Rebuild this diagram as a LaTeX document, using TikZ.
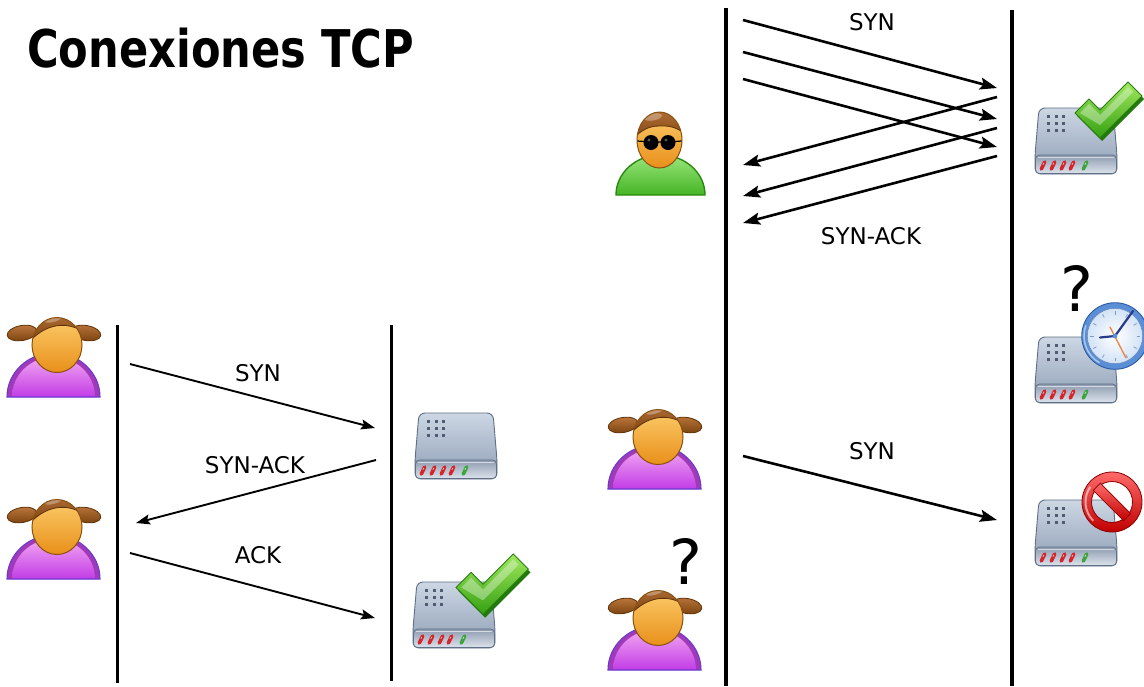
\documentclass[tikz,border=0pt]{standalone}
\usepackage{fontspec}
\setmainfont{DejaVu Sans}
\usetikzlibrary{arrows.meta}

% palette
\definecolor{srvA}{HTML}{CDD7E4}
\definecolor{srvB}{HTML}{8E9EB5}
\definecolor{srvEdge}{HTML}{5F6F86}
\definecolor{panelA}{HTML}{8D9BB0}
\definecolor{panelB}{HTML}{DCE3EC}
\definecolor{dotC}{HTML}{4E5D72}
\definecolor{ledR}{HTML}{D8232A}
\definecolor{ledG}{HTML}{3AA53A}
\definecolor{chkA}{HTML}{A2E85E}
\definecolor{chkB}{HTML}{34A012}
\definecolor{chkEdge}{HTML}{2A7D12}
\definecolor{chkDark}{HTML}{237A0C}
\definecolor{skinA}{HTML}{FCCB6A}
\definecolor{skinB}{HTML}{E8901A}
\definecolor{skinEdge}{HTML}{8A5010}
\definecolor{hairA}{HTML}{B8733A}
\definecolor{hairB}{HTML}{7A420E}
\definecolor{hairEdge}{HTML}{5E3208}
\definecolor{dressA}{HTML}{F2A6F2}
\definecolor{dressB}{HTML}{C23CE6}
\definecolor{dressOut}{HTML}{A03AB8}
\definecolor{dressEdge}{HTML}{6A3AD0}
\definecolor{shirtA}{HTML}{9AE67C}
\definecolor{shirtB}{HTML}{44B424}
\definecolor{shirtEdge}{HTML}{2A8A10}
\definecolor{clkRing}{HTML}{5A8FD8}
\definecolor{clkEdge}{HTML}{2A5AA0}
\definecolor{clkFace}{HTML}{D3E3F6}
\definecolor{clkHand}{HTML}{2A3A8A}
\definecolor{clkSec}{HTML}{F08040}
\definecolor{stopA}{HTML}{FF6A6A}
\definecolor{stopB}{HTML}{C00000}
\definecolor{stopEdge}{HTML}{8A0000}

\newfontfamily\titlefont{DejaVu Sans}

\tikzset{
  % network box with status LEDs
  server/.pic={
    \path[draw=srvEdge, line width=0.9pt, top color=srvA, bottom color=srvB, rounded corners=6pt]
      (4,0) -- (78,0) -- (82,47) -- (82,66) -- (0,66) -- (0,47) -- cycle;
    \path[draw=srvEdge, line width=0.7pt, top color=panelA, bottom color=panelB, rounded corners=4pt]
      (0.5,47) -- (81.5,47) -- (81.5,65.5) -- (0.5,65.5) -- cycle;
    \draw[white, opacity=0.6, line width=0.8pt] (3,49) -- (79,49);
    \foreach \dx in {13,21,28} \foreach \dy in {8,15,22}
      \fill[dotC] (\dx-1.5,\dy-1.5) rectangle (\dx+1.5,\dy+1.5);
    \foreach \lx in {8,18,28,37}{
      \draw[ledR, line width=3.6pt, line cap=round] (\lx-1.7,61) -- (\lx+1.7,54);
      \draw[white, opacity=0.7, line width=0.8pt, line cap=round] (\lx,56.5) -- (\lx+0.9,55);
    }
    \draw[ledG, line width=3.6pt, line cap=round] (48.3,61) -- (51.7,54);
    \draw[white, opacity=0.7, line width=0.8pt, line cap=round] (50,56.5) -- (50.9,55);
  },
  % green tick
  tick/.pic={
    \fill[chkDark] (2,34) -- (16,20) -- (27,31) -- (55,3) -- (69,17) -- (27,59) -- cycle;
    \path[draw=chkEdge, line width=0.8pt, top color=chkA, bottom color=chkB]
      (0,31) -- (14,17) -- (25,28) -- (53,0) -- (67,14) -- (25,56) -- cycle;
    \fill[white, opacity=0.35] (5,31) -- (14,22) -- (25,33) -- (53,5) -- (58,10) -- (25,43) -- cycle;
  },
  % wall clock
  clock/.pic={
    \fill[clkFace] (0,0) circle (28);
    \shade[inner color=white, outer color=clkFace] (0,0) circle (27);
    \draw[clkRing, line width=5.5pt] (0,0) circle (30.5);
    \draw[clkEdge, line width=0.9pt] (0,0) circle (33.3);
    \draw[clkEdge!70, line width=0.6pt] (0,0) circle (27.7);
    \draw[white, opacity=0.5, line width=1.5pt] (120:31) arc[start angle=120, end angle=200, radius=31];
    \foreach \a in {0,30,...,330}
      \draw[clkEdge!60, line width=0.8pt] (\a:21.5) -- (\a:25);
    \draw[clkHand, line width=2.2pt, line cap=round] (0,0) -- (18,-25);
    \draw[clkHand, line width=2.2pt, line cap=round] (0,0) -- (-15,1.5);
    \draw[clkSec, line width=1.3pt, line cap=round] (-5,-9) -- (11,22);
    \fill[clkRing] (0,0) circle (2.4);
  },
  % prohibition sign
  nogo/.pic={
    \path[even odd rule, draw=stopEdge, line width=0.8pt, top color=stopA, bottom color=stopB]
      (0,0) circle (30) (0,0) circle (20.5);
    \begin{scope}[rotate=-45]
      \path[draw=stopEdge, line width=0.8pt, top color=stopA, bottom color=stopB]
        (-21.5,-5) rectangle (21.5,5);
    \end{scope}
    \draw[white, opacity=0.55, line width=2pt] (135:26.5) arc[start angle=135, end angle=215, radius=26.5];
  },
  % girl with pigtails
  girl/.pic={
    \fill[dressOut] (0,87) arc[start angle=180, end angle=360, x radius=46.5, y radius=44] -- cycle;
    \path[top color=dressA, bottom color=dressB]
      (5,87) arc[start angle=180, end angle=360, x radius=41.5, y radius=40] -- cycle;
    \draw[dressEdge, line width=1.1pt]
      (0,87) arc[start angle=180, end angle=360, x radius=46.5, y radius=44] -- cycle;
    \path[draw=hairEdge, line width=0.8pt, top color=hairA, bottom color=hairB]
      (15,23) ellipse[x radius=15, y radius=7.5, rotate=10];
    \path[draw=hairEdge, line width=0.8pt, top color=hairA, bottom color=hairB]
      (79,23) ellipse[x radius=15, y radius=7.5, rotate=-10];
    \path[top color=skinA, bottom color=skinB] (50,35) ellipse[x radius=25, y radius=27.5];
    \begin{scope}
      \clip (50,35) ellipse[x radius=25, y radius=27.5];
      \path[draw=hairEdge, line width=0.8pt, top color=hairA, bottom color=hairB]
        (20,0) -- (80,0) -- (80,25) .. controls (66,12) and (42,10) .. (22,32) -- cycle;
      \fill[white, opacity=0.3] (46,8) ellipse[x radius=10, y radius=4, rotate=15];
    \end{scope}
    \draw[skinEdge, line width=1pt] (50,35) ellipse[x radius=25, y radius=27.5];
  },
  % man with dark glasses
  spy/.pic={
    \path[draw=shirtEdge, line width=1.4pt, top color=shirtA, bottom color=shirtB]
      (1,83) arc[start angle=180, end angle=360, x radius=44.5, y radius=40] -- cycle;
    \path[top color=skinA, bottom color=skinB] (44.5,28) ellipse[x radius=22.5, y radius=28];
    \begin{scope}
      \clip (44.5,28) ellipse[x radius=22.5, y radius=28];
      \path[draw=hairEdge, line width=0.8pt, top color=hairA, bottom color=hairB]
        (15,-5) -- (75,-5) -- (75,28) .. controls (68,18) and (58,13) .. (44,14)
        .. controls (32,14) and (24,20) .. (15,30) -- cycle;
      \fill[white, opacity=0.3] (38,5) ellipse[x radius=9, y radius=3.5, rotate=10];
    \end{scope}
    \draw[skinEdge, line width=1pt] (44.5,28) ellipse[x radius=22.5, y radius=28];
    \draw[black, line width=1.2pt] (22.5,29) -- (36,30) -- (53,30) -- (66.5,29);
    \fill[black] (36,30.5) circle (7.5);
    \fill[black] (53,30.5) circle (7.5);
    \fill[white, opacity=0.35] (34,28) circle (1.6);
    \fill[white, opacity=0.35] (51,28) circle (1.6);
  },
  lbl/.style={font=\fontsize{23}{23}\selectfont, inner sep=0pt},
  qmark/.style={font=\fontsize{62}{62}\selectfont, inner sep=0pt},
  msgA/.style={line width=1.9pt, -{Stealth[length=14pt, width=10pt, inset=2.5pt]}},
  msgB/.style={line width=2.6pt, -{Stealth[length=17pt, width=12pt, inset=3pt]}},
  lifeA/.style={line width=3pt},
  lifeB/.style={line width=4.6pt}
}

\begin{document}
\begin{tikzpicture}[x=1pt, y=-1pt]
\useasboundingbox (0,0) rectangle (1144,686);
\fill[white] (0,0) rectangle (1144,686);

% heading
\node[anchor=base west, inner sep=0pt] (title) at (27,67)
  {\scalebox{0.83}[1]{\titlefont\fontsize{52}{52}\selectfont\bfseries Conexiones TCP}};

% ---------- normal handshake ----------
\coordinate (cL1) at (117,325);
\coordinate (cL2) at (117,683);
\coordinate (sL1) at (391,325);
\coordinate (sL2) at (391,681);
\draw[lifeA] (cL1) -- (cL2);
\draw[lifeA] (sL1) -- (sL2);

\pic at (7,310) {girl};
\pic at (7,492) {girl};
\pic at (415,413) {server};
\pic at (413,582) {server};
\pic[scale=1.08] at (456,554) {tick};

\coordinate (h1a) at (130,364);
\coordinate (h1b) at (375,428);
\coordinate (h2a) at (376,460);
\coordinate (h2b) at (136,523);
\coordinate (h3a) at (130,553);
\coordinate (h3b) at (375,618);
\draw[msgA] (h1a) -- (h1b);
\draw[msgA] (h2a) -- (h2b);
\draw[msgA] (h3a) -- (h3b);
\node[lbl] (lsyn) at (258,373) {SYN};
\node[lbl] (lsynack) at (255,465) {SYN-ACK};
\node[lbl] (lack) at (258,555) {ACK};

% ---------- SYN flood ----------
\coordinate (cR1) at (726,8);
\coordinate (cR2) at (726,686);
\coordinate (sR1) at (1012,10);
\coordinate (sR2) at (1012,686);
\draw[lifeB] (cR1) -- (cR2);
\draw[lifeB] (sR1) -- (sR2);

\pic at (615,112) {spy};
\pic at (608,402) {girl};
\pic at (608,583) {girl};

\pic at (1035,108) {server};
\pic at (1075,82) {tick};
\pic at (1035,337) {server};
\pic at (1115,336) {clock};
\pic at (1035,500) {server};
\pic at (1112,502) {nogo};

\coordinate (f1a) at (743,20);
\coordinate (f1b) at (997,88);
\coordinate (f2a) at (743,52);
\coordinate (f2b) at (997,119);
\coordinate (f3a) at (743,79);
\coordinate (f3b) at (997,147);
\coordinate (r1a) at (997,97);
\coordinate (r1b) at (743,165);
\coordinate (r2a) at (997,128);
\coordinate (r2b) at (743,196);
\coordinate (r3a) at (997,156);
\coordinate (r3b) at (743,223);
\draw[msgB] (f1a) -- (f1b);
\draw[msgB] (f2a) -- (f2b);
\draw[msgB] (f3a) -- (f3b);
\draw[msgB] (r1a) -- (r1b);
\draw[msgB] (r2a) -- (r2b);
\draw[msgB] (r3a) -- (r3b);
\node[lbl] (rsyn) at (872,22) {SYN};
\node[lbl] (rsynack) at (871,236) {SYN-ACK};

\coordinate (g1a) at (743,456);
\coordinate (g1b) at (997,520);
\draw[msgB] (g1a) -- (g1b);
\node[lbl] (gsyn) at (872,451) {SYN};

\node[qmark] (q1) at (1077,288) {?};
\node[qmark] (q2) at (686,561) {?};
\end{tikzpicture}
\end{document}
